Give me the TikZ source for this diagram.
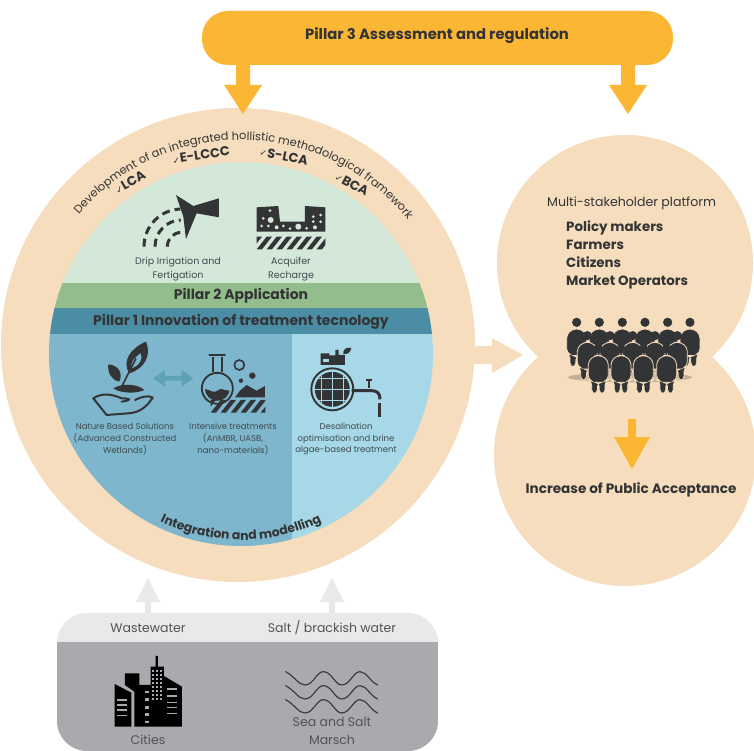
\documentclass[tikz,border=0pt]{standalone}
\usepackage{fontspec}
\setmainfont{Poppins}
\newfontfamily\chk{DejaVu Sans}
\usetikzlibrary{decorations.text,calc}
\definecolor{peach}{HTML}{F6DDBD}
\definecolor{lgreen}{HTML}{D4E8DA}
\definecolor{bgreen}{HTML}{93BD8D}
\definecolor{bteal}{HTML}{4A8DA5}
\definecolor{dblue}{HTML}{7DB6CD}
\definecolor{lblue}{HTML}{A6D8E8}
\definecolor{yel}{HTML}{FBB634}
\definecolor{ink}{HTML}{333436}
\definecolor{inkt}{HTML}{3F4A4C}
\definecolor{lgrey}{HTML}{E9E9EA}
\definecolor{mgrey}{HTML}{A9AAAD}
\definecolor{tealarr}{HTML}{5EA3B4}
\tikzset{
  lab/.style={font=\fontsize{8.5}{11.7}\selectfont,text=inkt,align=center,inner sep=0pt},
  labtop/.style={font=\fontsize{9.5}{14}\selectfont,text=inkt,align=center,inner sep=0pt},
  hd/.style={font=\fontsize{14}{16}\selectfont\bfseries,text=ink,inner sep=0pt},
  chklab/.style={font=\fontsize{13}{15}\selectfont\bfseries,text=ink,inner sep=0pt},
  glab/.style={font=\fontsize{12.5}{15}\selectfont,text=ink!85,inner sep=0pt,align=center},
  iconline/.style={draw=ink,line width=2pt,line cap=round,line join=round},
  zoomA/.style={shift={(50,120)},x=.3333pt,y=-.3333pt},
  zoomB/.style={shift={(50,320)},x=.3333pt,y=-.3333pt},
  zoomC/.style={shift={(40,570)},x=.3333pt,y=-.3333pt},
  zoomD/.style={shift={(480,170)},x=.3333pt,y=-.3333pt},
}
\newcommand{\vblock}[7]{\fill[#7] (#1-#5,#2) -- (#1-#5,#3) -- (#1-#6,#3) -- (#1,#4) -- (#1+#6,#3) -- (#1+#5,#3) -- (#1+#5,#2) -- cycle;}
\newcommand{\hatchbar}[4]{%
  \begin{scope}
    \clip (#1,#2) rectangle (#3,#4);
    \foreach \hx in {-2,...,9}{
      \fill[ink] ({#1+\hx*30+30},#2) -- ({#1+\hx*30+46},#2) -- ({#1+\hx*30+16},#4) -- ({#1+\hx*30},#4) -- cycle;
    }
  \end{scope}}
\newcommand{\person}[2]{%
  \begin{scope}[shift={(#1,#2)}]
    \path[fill=ink,draw=peach,line width=.8pt,rounded corners=4pt]
      (-30,36) -- (-12,20) -- (12,20) -- (30,36) -- (30,92) -- (20,96) -- (20,134)
      -- (3,134) -- (2,100) -- (-2,100) -- (-3,134) -- (-20,134) -- (-20,96) -- (-30,92) -- cycle;
    \fill[ink] (0,0) circle[radius=4.6pt];
  \end{scope}}
\begin{document}
\begin{tikzpicture}[x=1pt,y=-1pt]
\useasboundingbox (0,0) rectangle (754,751);
\fill[white] (0,0) rectangle (754,751);
\coordinate (c) at (241,354);

\fill[peach] (625,263) circle[radius=128pt];
\fill[peach] (625,455) circle[radius=131pt];
\fill[peach] (238,345) circle[radius=237pt];
\fill[peach] (465,346) -- (492,346) -- (492,338) -- (523,355) -- (492,373) -- (492,364) -- (465,364) -- cycle;

\begin{scope}
  \clip (c) circle[radius=192pt];
  \fill[lgreen] (40,150) rectangle (440,283);
  \fill[bgreen] (40,283) rectangle (440,308);
  \fill[bteal] (40,308) rectangle (440,334);
  \fill[dblue] (40,334) rectangle (292,560);
  \fill[lblue] (292,334) rectangle (440,560);
\end{scope}

\fill[yel,rounded corners=26pt] (202,11) rectangle (673,65);
\node[hd,font=\fontsize{14.8}{16}\selectfont\bfseries] (p3) at (437,36) {Pillar 3 Assessment and regulation};
\vblock{243}{64}{85}{114}{7}{19}{yel}
\vblock{628}{64}{85}{114}{7}{19}{yel}

\path[decorate,decoration={text along path,text align=center,
  text={|\fontsize{11.4}{12}\selectfont\color{ink}|Development of an integrated hollistic methodological framework}}]
  ([shift={(147:214pt)}]c) arc[start angle=147,end angle=31,radius=214pt];
\path[decorate,decoration={text along path,text align=center,
  text={|\fontsize{12.4}{14}\selectfont\bfseries\color{ink}|Integration and modelling}}]
  ([shift={(240:186pt)}]c) arc[start angle=240,end angle=300,radius=186pt];

\node[chklab,rotate=30] (lca) at (130,182) {{\chk\fontsize{9}{9}\selectfont ✓}LCA};
\node[chklab,rotate=9] (elccc) at (201,155) {{\chk\fontsize{9}{9}\selectfont ✓}E-LCCC};
\node[chklab,rotate=-11] (slca) at (284,156) {{\chk\fontsize{9}{9}\selectfont ✓}S-LCA};
\node[chklab,rotate=-28] (bca) at (352,184) {{\chk\fontsize{9}{9}\selectfont ✓}BCA};

\node[hd] (p2) at (241,296) {Pillar 2 Application};
\node[hd] (p1) at (241,322) {Pillar 1 Innovation of treatment tecnology};

\node[labtop] (drip) at (178,269) {Drip Irrigation and\\Fertigation};
\node[labtop] (acq) at (291,269) {Acquifer\\Recharge};
\node[lab] (nbs) at (125,439) {Nature Based Solutions\\(Advanced Constructed\\Wetlands)};
\node[lab] (int) at (233,439) {Intensive treatments\\(AnMBR, UASB,\\nano-materials)};
\node[lab] (des) at (346,439) {Desalination\\optimisation and brine\\algae-based treatment};

\begin{scope}[zoomA]
  \fill[ink] (378,225) -- (430,258) -- (507,235) -- (507,292) -- (440,280) -- (408,357) -- (400,290) -- cycle;
  \foreach \r/\a in {113/92,80/92,43/95}{
    \draw[ink,line width=3pt,dash pattern=on 8pt off 5pt] ([shift={(180:\r*.3333pt)}]395,380) arc[start angle=180,end angle=\a,radius=\r*.3333pt];
  }
  \fill[ink] (620,262) -- (685,258) -- (690,305) -- (765,305) -- (765,258) -- (826,262) -- (826,335) -- (620,335) -- cycle;
  \foreach \x/\y/\rr in {660/272/1.5,640/295/1.5,662/300/3,635/318/1.5,655/318/1.5,680/322/2,700/318/1.5,720/326/1.5,745/320/3,770/325/1.5,795/322/2,790/290/1.5,812/285/1.5,812/305/1.5,790/305/1.5}{
    \fill[lgreen] (\x,\y) circle[radius=\rr pt];
  }
  \hatchbar{620}{350}{826}{388}
\end{scope}

\begin{scope}[zoomB]
  \fill[ink] (288,65) .. controls (240,85) and (215,125) .. (238,160) .. controls (285,145) and (305,105) .. (288,65) -- cycle;
  \fill[dblue] (272,100) .. controls (250,115) and (240,130) .. (245,145) .. controls (270,135) and (280,115) .. (272,100) -- cycle;
  \draw[ink,line width=1.6pt] (215,200) -- (258,115);
  \fill[ink] (175,133) .. controls (205,135) and (220,160) .. (208,185) .. controls (185,180) and (172,160) .. (175,133) -- cycle;
  \fill[ink] (190,205) .. controls (215,190) and (260,190) .. (283,210) .. controls (260,222) and (210,220) .. (190,205) -- cycle;
  \draw[iconline] (130,235) .. controls (160,215) and (190,225) .. (215,235) .. controls (240,235) and (250,240) .. (215,245);
  \draw[iconline] (255,240) .. controls (275,230) and (295,225) .. (308,233) .. controls (290,260) and (270,278) .. (235,280) -- (170,285) -- (130,235);
  \draw[ink,line width=1.8pt] (488,110) -- (488,155) (516,110) -- (516,155);
  \draw[ink,line width=2pt,line cap=round] (478,105) -- (525,105);
  \draw[ink,line width=1.8pt] (502,205) circle[radius=15.5pt];
  \begin{scope}
    \clip (502,205) circle[radius=12.5pt];
    \fill[ink] (450,212) .. controls (470,195) and (485,225) .. (502,212) .. controls (520,197) and (535,225) .. (555,205) -- (555,260) -- (450,260) -- cycle;
  \end{scope}
  \draw[ink,line width=1.6pt] (568,135) circle[radius=5pt];
  \fill[ink] (607,167) circle[radius=3.2pt];
  \fill[ink] (573,182) circle[radius=2.2pt];
  \fill[ink] (555,232) -- (570,212) -- (590,195) -- (620,212) -- (645,198) -- (645,232) -- cycle;
  \hatchbar{482}{240}{646}{278}
  \fill[tealarr] (310,175) -- (345,150) -- (345,168) -- (395,168) -- (395,150) -- (430,175) -- (395,200) -- (395,182) -- (345,182) -- (345,200) -- cycle;
  \draw[ink,line width=1.9pt] (847,208) circle[radius=21pt];
  \begin{scope}
    \clip (847,208) circle[radius=17.5pt];
    \fill[ink] (790,150) rectangle (905,265);
    \foreach \gx in {815,847,879}{\draw[lblue,line width=.9pt] (\gx,140) -- (\gx,270);}
    \foreach \gy in {176,208,240}{\draw[lblue,line width=.9pt] (780,\gy) -- (915,\gy);}
  \end{scope}
  \fill[ink] (812,100) -- (838,100) -- (838,106) -- (856,106) -- (856,90) -- (866,90) -- (866,105) -- (885,105) -- (885,135) -- (812,135) -- cycle;
  \fill[lblue] (820,118) rectangle (838,125);
  \fill[ink] (880,95) .. controls (885,82) and (895,82) .. (904,84) .. controls (902,98) and (892,104) .. (880,102) -- cycle;
  \draw[ink,line width=3pt,line join=round] (905,212) -- (965,212) .. controls (982,212) and (990,220) .. (990,238);
  \draw[ink,line width=1.6pt] (957,178) -- (957,205);
  \draw[ink,line width=1.8pt] (947,180) -- (967,180);
  \draw[ink,line width=3pt] (990,250) -- (990,292);
\end{scope}

\node[font=\fontsize{12.6}{15}\selectfont,text=ink,inner sep=0pt,anchor=west] (msp) at (547,203) {Multi-stakeholder platform};
\node[hd,font=\fontsize{13.4}{17.7}\selectfont\bfseries,align=left,anchor=north west] (stake) at (566,221) {Policy makers\\Farmers\\Citizens\\Market Operators};
\node[hd,font=\fontsize{13.6}{16}\selectfont\bfseries] (incr) at (631,490) {Increase of Public Acceptance};

\begin{scope}[zoomD]
  \fill[black!40!peach,opacity=.5] (450,622) ellipse[x radius=62pt,y radius=5pt];
  \foreach \px in {290,358,427,495,563,630}{\person{\px}{457}}
  \foreach \px in {322,390,458,525,592}{\person{\px}{497}}
  \foreach \px in {355,423,490,560}{\person{\px}{537}}
\end{scope}
\vblock{632}{419}{437}{469}{4}{18}{yel}

\begin{scope}
  \clip[rounded corners=30pt] (57,613) rectangle (438,751);
  \fill[lgrey] (57,613) rectangle (438,642);
  \fill[mgrey] (57,642) rectangle (438,751);
\end{scope}
\vblock{148}{613}{602}{578}{3}{12}{lgrey}
\vblock{332}{613}{602}{578}{3}{12}{lgrey}
\node[glab] (ww) at (148,628) {Wastewater};
\node[glab] (sb) at (332,628) {Salt / brackish water};
\node[glab] (cit) at (148,740) {Cities};
\node[glab,font=\fontsize{12.5}{17.5}\selectfont] (sea) at (332,731) {Sea and Salt\\Marsch};

\begin{scope}[zoomC]
  \fill[black] (224,342) -- (274,368) -- (274,470) -- (224,470) -- cycle;
  \fill[black] (255,310) -- (298,310) -- (298,345) -- (332,345) -- (332,290) -- (347,290) -- (347,258) -- (354,258) -- (354,290) -- (372,290) -- (372,318) -- (426,350) -- (426,470) -- (283,470) -- (283,365) -- (255,345) -- cycle;
  \foreach \y in {388,402,418,434}{\fill[mgrey] (232,\y) rectangle (260,\y+5);}
  \foreach \y in {355,375,395,410,428}{\fill[mgrey] (382,\y) rectangle (412,\y+5);}
  \foreach \y in {362,385,408,430,452}{\fill[mgrey] (316,\y) rectangle (326,\y+8);}
  \foreach \y in {300,312,324,336,348,360,372,384}{\foreach \x in {337,349,361}{\fill[mgrey] (\x,\y) rectangle (\x+6,\y+6);}}
  \foreach \dy in {0,42,84}{
    \draw[ink,line width=1.1pt,line cap=round] (737,305+\dy) .. controls (765,320+\dy) and (775,345+\dy) .. (795,345+\dy) .. controls (820,345+\dy) and (830,305+\dy) .. (850,305+\dy) .. controls (875,305+\dy) and (885,345+\dy) .. (905,345+\dy) .. controls (930,345+\dy) and (940,305+\dy) .. (960,305+\dy) .. controls (980,305+\dy) and (990,335+\dy) .. (1013,345+\dy);
  }
\end{scope}
\end{tikzpicture}
\end{document}
